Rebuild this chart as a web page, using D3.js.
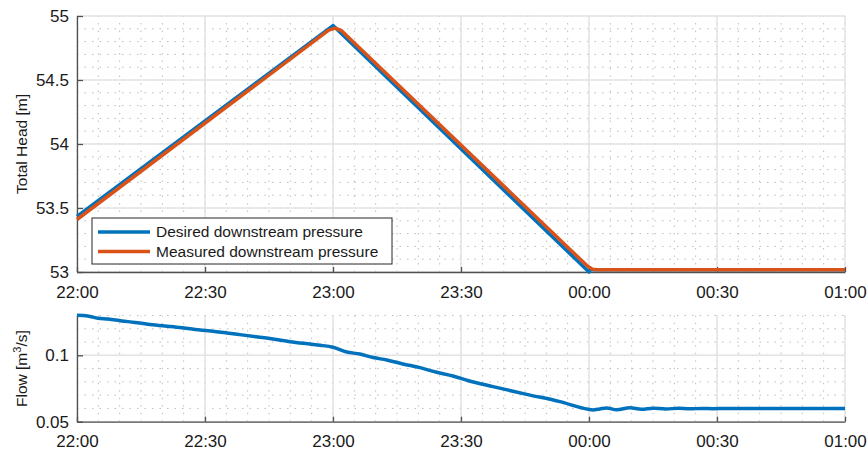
<!DOCTYPE html>
<html>
<head>
<meta charset="utf-8">
<script src="https://cdn.jsdelivr.net/npm/d3@7"></script>
<style>
  html, body { margin: 0; padding: 0; background: #fff; }
  svg { display: block; font-family: 'Liberation Sans', Arial, sans-serif; }
</style>
</head>
<body>
<div id="chart"></div>
<script>
'use strict';

// ---- data (minutes after 22:00) ----
const desiredMin  = [0, 60, 120, 120.3, 180];
const desiredHead = [53.435, 54.925, 53.0, 53.018, 53.018];

const measuredMin  = [0, 59, 60.5, 62, 119.5, 120.8, 122, 180];
const measuredHead = [53.41, 54.89, 54.905, 54.885, 53.05, 53.022, 53.018, 53.018];

const flowMin = [0, 2.5, 4.9, 7.3, 10.5, 13.6, 16.6, 20.6, 24.5, 27.7, 30.7, 34.7, 38.6, 42.4,
  45.9, 49.9, 54.6, 57, 60, 63.2, 66.3, 69.4, 72.6, 76.4, 80.4, 84.3, 88.1, 91.6, 97.5,
  105.4, 113.2, 119.8, 120.9, 122.5, 124.1, 126.5, 129.6, 132.3, 135, 138, 141, 143.5,
  146.5, 149, 152, 155, 160, 165, 170, 175, 180];
const flowVal = [0.1302, 0.1296, 0.1280, 0.1273, 0.1259, 0.1248, 0.1234, 0.1221, 0.1208, 0.1194,
  0.1185, 0.1170, 0.1154, 0.1138, 0.1123, 0.1103, 0.1085, 0.1076, 0.1061, 0.1025, 0.1010,
  0.0983, 0.0965, 0.0935, 0.0907, 0.0872, 0.0844, 0.0810, 0.0764, 0.0706, 0.0651, 0.0594,
  0.0589, 0.0596, 0.0604, 0.0590, 0.0606, 0.0594, 0.0602, 0.0596, 0.0601, 0.0597, 0.0600,
  0.0598, 0.0600, 0.0599, 0.0600, 0.0599, 0.0600, 0.0600, 0.0600];

const headTicks = [53, 53.5, 54, 54.5, 55];
const flowTicks = [0.05, 0.1];
const seriesNames = ['Desired downstream pressure', 'Measured downstream pressure'];
const seriesColors = ['#0072BD', '#D95319'];

// ---- layout ----
const W = 868, H = 454;
const t0 = new Date(2020, 0, 1, 22, 0);
const t1 = new Date(2020, 0, 2, 1, 0);
const toDate = m => new Date(t0.getTime() + m * 60000);

const svg = d3.select('#chart').append('svg')
    .attr('width', W)
    .attr('height', H);

const x = d3.scaleTime().domain([t0, t1]).range([77, 845]);
const yTop = d3.scaleLinear().domain([53, 55]).range([272, 16]);
const yBot = d3.scaleLinear().domain([0.05, 0.13]).range([421.7, 315.5]);

const minorX = d3.timeMinute.every(5).range(t0, d3.timeMinute.offset(t1, 1));
const majorX = d3.timeMinute.every(30).range(t0, d3.timeMinute.offset(t1, 1));

function drawGrid(y, minorStep, majorVals) {
    const [lo, hi] = y.domain();
    const g = svg.append('g');
    const minorY = d3.range(Math.round(lo / minorStep), Math.round(hi / minorStep) + 1)
        .map(i => i * minorStep);

    // minor dotted grid
    g.selectAll('.mx').data(minorX).join('line')
        .attr('x1', d => x(d)).attr('x2', d => x(d))
        .attr('y1', y.range()[0]).attr('y2', y.range()[1])
        .attr('stroke', '#bdbdbd').attr('stroke-width', 1)
        .attr('stroke-dasharray', '1.5,6');
    g.selectAll('.my').data(minorY).join('line')
        .attr('x1', x.range()[0]).attr('x2', x.range()[1])
        .attr('y1', d => y(d)).attr('y2', d => y(d))
        .attr('stroke', '#bdbdbd').attr('stroke-width', 1)
        .attr('stroke-dasharray', '1.5,6');

    // major solid grid
    g.selectAll('.Mx').data(majorX).join('line')
        .attr('x1', d => x(d)).attr('x2', d => x(d))
        .attr('y1', y.range()[0]).attr('y2', y.range()[1])
        .attr('stroke', '#e3e3e3').attr('stroke-width', 1.5);
    g.selectAll('.My').data(majorVals).join('line')
        .attr('x1', x.range()[0]).attr('x2', x.range()[1])
        .attr('y1', d => y(d)).attr('y2', d => y(d))
        .attr('stroke', '#e3e3e3').attr('stroke-width', 1.5);
}

function drawAxes(y, ticks, fmt) {
    const xa = svg.append('g')
        .attr('transform', `translate(0,${y.range()[0]})`)
        .call(d3.axisBottom(x).tickValues(majorX).tickFormat(d3.timeFormat('%H:%M'))
            .tickSizeInner(-5).tickSizeOuter(0).tickPadding(13.5));
    const ya = svg.append('g')
        .attr('transform', `translate(${x.range()[0]},0)`)
        .call(d3.axisLeft(y).tickValues(ticks).tickFormat(fmt)
            .tickSizeInner(-6).tickSizeOuter(0).tickPadding(8));
    [xa, ya].forEach(a => {
        a.select('.domain').attr('stroke', '#505050').attr('stroke-width', 1.3);
        a.selectAll('.tick line').attr('stroke', '#505050').attr('stroke-width', 1.3);
        a.selectAll('text').attr('fill', '#1a1a1a')
            .attr('font-size', 17).attr('font-family', "'Liberation Sans', Arial, sans-serif");
    });
}

// ---- top panel: total head ----
drawGrid(yTop, 0.1, headTicks);
drawAxes(yTop, headTicks, d3.format('~g'));

const headLine = d3.line().x(d => x(d[0])).y(d => yTop(d[1]));
const desired = desiredMin.map((m, i) => [toDate(m), desiredHead[i]]);
const measured = measuredMin.map((m, i) => [toDate(m), measuredHead[i]]);

[desired, measured].forEach((pts, i) => {
    svg.append('path')
        .datum(pts)
        .attr('d', headLine)
        .attr('fill', 'none')
        .attr('stroke', seriesColors[i])
        .attr('stroke-width', 3.5)
        .attr('stroke-linejoin', 'round');
});

svg.append('text')
    .attr('transform', `translate(27,${(yTop.range()[0] + yTop.range()[1]) / 2}) rotate(-90)`)
    .attr('text-anchor', 'middle')
    .attr('font-size', 15.5)
    .attr('fill', '#1a1a1a')
    .text('Total Head [m]');

// legend
const lg = svg.append('g').attr('transform', 'translate(92,218)');
lg.append('rect')
    .attr('width', 300).attr('height', 46)
    .attr('fill', '#fff').attr('stroke', '#262626').attr('stroke-width', 1);
seriesNames.forEach((name, i) => {
    const yy = 14 + i * 19.5;
    lg.append('line')
        .attr('x1', 6).attr('x2', 58).attr('y1', yy).attr('y2', yy)
        .attr('stroke', seriesColors[i]).attr('stroke-width', 3.5);
    lg.append('text')
        .attr('x', 64).attr('y', yy).attr('dy', '0.35em')
        .attr('font-size', 15.5).attr('fill', '#1a1a1a')
        .text(name);
});

// ---- bottom panel: flow ----
drawGrid(yBot, 0.01, flowTicks);
drawAxes(yBot, flowTicks, d3.format('~g'));

const flowLine = d3.line().x(d => x(d[0])).y(d => yBot(d[1])).curve(d3.curveMonotoneX);
svg.append('path')
    .datum(flowMin.map((m, i) => [toDate(m), flowVal[i]]))
    .attr('d', flowLine)
    .attr('fill', 'none')
    .attr('stroke', seriesColors[0])
    .attr('stroke-width', 3.5)
    .attr('stroke-linejoin', 'round');

const ft = svg.append('text')
    .attr('transform', `translate(27,${(yBot.range()[0] + yBot.range()[1]) / 2}) rotate(-90)`)
    .attr('text-anchor', 'middle')
    .attr('font-size', 15.5)
    .attr('fill', '#1a1a1a');
ft.append('tspan').text('Flow [m');
ft.append('tspan').attr('font-size', 11).attr('dy', -6).text('3');
ft.append('tspan').attr('dy', 6).text('/s]');
</script>
</body>
</html>
